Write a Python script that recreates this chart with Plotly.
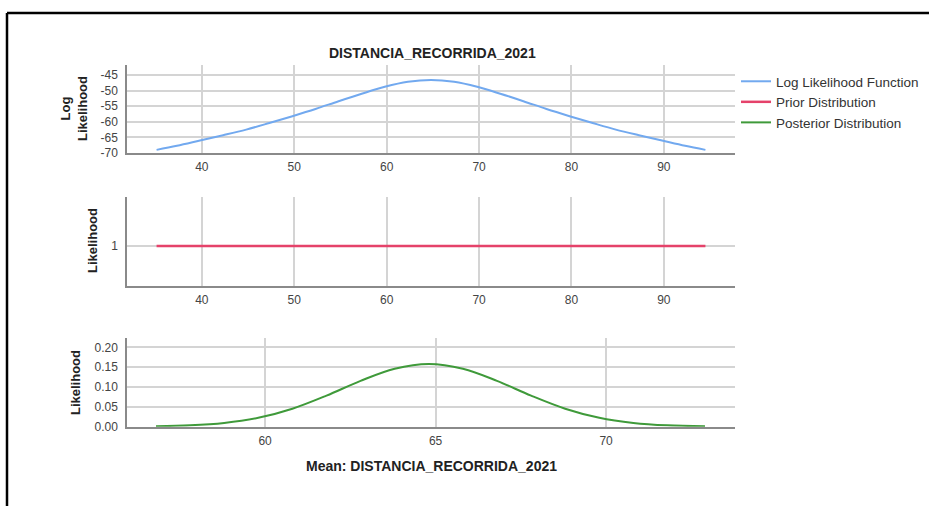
import plotly.graph_objects as go

W, H = 929, 506

# ---- data ----
ll_mean = [35.1, 37.3, 39.8, 42.3, 44.8, 47.3, 49.8, 52.3, 54.8, 57.3, 59.8, 62.3, 64.8,
           67.3, 69.8, 72.3, 74.8, 77.3, 79.8, 82.3, 84.8, 87.3, 89.8, 92.3, 94.5]
ll_value = [-69.0, -67.7, -66.0, -64.3, -62.5, -60.4, -58.2, -55.9, -53.4, -51.0, -48.8, -47.2, -46.6,
            -47.2, -48.8, -51.0, -53.4, -55.9, -58.2, -60.4, -62.5, -64.3, -66.0, -67.7, -69.0]

prior_mean = [35.1, 94.5]
prior_value = [1, 1]

post_mean = [56.8, 57.8, 58.8, 59.8, 60.8, 61.8, 62.8, 63.8, 64.8, 65.8, 66.8, 67.8, 68.8,
             69.8, 70.8, 71.8, 72.9]
post_value = [0.0011, 0.0034, 0.0095, 0.0224, 0.0453, 0.0782, 0.1156, 0.1461, 0.158,
              0.1461, 0.1156, 0.0782, 0.0453, 0.0224, 0.0095, 0.0034, 0.0010]

ticks_top = [40, 50, 60, 70, 80, 90]
ticks_bottom = [60, 65, 70]
ll_yticks = [-70, -65, -60, -55, -50, -45]
ll_yticktext = ["-70", "-65", "-60", "-55", "-50", "-45"]
post_yticks = [0.00, 0.05, 0.10, 0.15, 0.20]

title_text = "DISTANCIA_RECORRIDA_2021"
xtitle_text = "Mean: DISTANCIA_RECORRIDA_2021"

FONT = "Liberation Sans, Arial, sans-serif"
GRID = "#d4d4d4"
AXL = "#8a8a8a"

def px_x(p):
    return p / W

def px_y(p):
    return 1 - p / H

fig = go.Figure()
fig.add_trace(go.Scatter(x=ll_mean, y=ll_value, mode="lines", name="Log Likelihood Function",
                         line=dict(color="#72a9ef", width=2, shape="spline"),
                         xaxis="x", yaxis="y"))
fig.add_trace(go.Scatter(x=prior_mean, y=prior_value, mode="lines", name="Prior Distribution",
                         line=dict(color="#e5426a", width=2.5),
                         xaxis="x2", yaxis="y2"))
fig.add_trace(go.Scatter(x=post_mean, y=post_value, mode="lines", name="Posterior Distribution",
                         line=dict(color="#3f9a3a", width=2, shape="spline"),
                         xaxis="x3", yaxis="y3"))

xdom = [px_x(127), px_x(735)]
common_x = dict(showgrid=True, gridcolor=GRID, gridwidth=1.5, showline=True, linecolor=AXL,
                linewidth=1.5, zeroline=False, ticks="", automargin=False, ticklabelstandoff=2,
                tickfont=dict(size=12, color="#444", family=FONT),
                domain=xdom, fixedrange=True)
common_y = dict(showgrid=True, gridcolor=GRID, gridwidth=1.5, showline=True, linecolor=AXL,
                linewidth=1.5, zeroline=False, ticks="", ticklabelstandoff=5, automargin=False,
                tickfont=dict(size=12, color="#444", family=FONT), fixedrange=True)

fig.update_layout(
    width=W, height=H,
    margin=dict(l=0, r=0, t=0, b=0, pad=0, autoexpand=False),
    paper_bgcolor="white", plot_bgcolor="white",
    font=dict(family=FONT, color="#222"),
    xaxis=dict(common_x, anchor="y", range=[31.9, 97.7], tickvals=ticks_top),
    yaxis=dict(common_y, anchor="x", domain=[px_y(153), px_y(65)], range=[-70, -41.8],
               tickvals=ll_yticks, ticktext=ll_yticktext),
    xaxis2=dict(common_x, anchor="y2", range=[31.9, 97.7], tickvals=ticks_top),
    yaxis2=dict(common_y, anchor="x2", domain=[px_y(286), px_y(197)], range=[0, 2.225],
                tickvals=[1]),
    xaxis3=dict(common_x, anchor="y3", range=[55.95, 73.78], tickvals=ticks_bottom),
    yaxis3=dict(common_y, anchor="x3", domain=[px_y(426.7), px_y(338.3)], range=[0, 0.2227],
                tickvals=post_yticks, tickformat=".2f"),
    showlegend=True,
    legend=dict(x=px_x(736), y=px_y(66), xanchor="left", yanchor="top",
                font=dict(size=13.5, color="#333", family=FONT), tracegroupgap=0,
                bgcolor="rgba(0,0,0,0)", itemwidth=30),
)

ann = [
    dict(text="<b>" + title_text + "</b>", x=px_x(432), y=px_y(53), font=dict(size=14, color="#222")),
    dict(text="<b>" + xtitle_text + "</b>", x=px_x(431), y=px_y(466), font=dict(size=14, color="#222")),
    dict(text="<b>Log<br>Likelihood</b>", x=px_x(74), y=px_y(109), textangle=-90,
         font=dict(size=13, color="#222")),
    dict(text="<b>Likelihood</b>", x=px_x(92), y=px_y(241), textangle=-90,
         font=dict(size=13, color="#222")),
    dict(text="<b>Likelihood</b>", x=px_x(75), y=px_y(383), textangle=-90,
         font=dict(size=13, color="#222")),
]
for a in ann:
    a.update(xref="paper", yref="paper", showarrow=False, xanchor="center", yanchor="middle")
fig.update_layout(annotations=ann)

fig.update_layout(shapes=[
    dict(type="line", xref="paper", yref="paper", x0=px_x(7), x1=1.0, y0=px_y(13), y1=px_y(13),
         line=dict(color="black", width=2.5)),
    dict(type="line", xref="paper", yref="paper", x0=px_x(7), x1=px_x(7), y0=px_y(13), y1=0,
         line=dict(color="black", width=2.5)),
])

fig.write_html("out.html", config={"displayModeBar": False},
               post_script="document.body.style.margin='0';document.body.style.overflow='hidden';")
